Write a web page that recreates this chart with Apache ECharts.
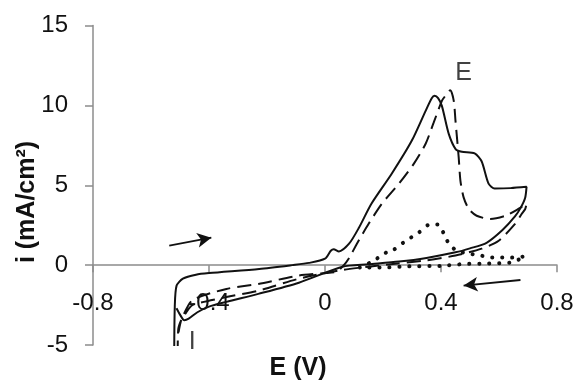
<!DOCTYPE html>
<html>
<head>
<meta charset="utf-8">
<script src="https://cdn.jsdelivr.net/npm/echarts@6/dist/echarts.min.js"></script>
<style>
html,body{margin:0;padding:0;background:#fff;}
#c{width:581px;height:388px;}
</style>
</head>
<body>
<div id="c"></div>
<script>
// ---- data (E in V, i in mA/cm2) ----
const xTicks = [-0.8, -0.4, 0, 0.4, 0.8];
const yTicks = [-5, 0, 5, 10, 15];

// solid curve: forward then reverse scan
const solidForward = [
  [-0.520,-5.6],[-0.518,-2.6],[-0.512,-1.3],[-0.490,-0.85],[-0.445,-0.60],[-0.400,-0.50],
  [-0.227,-0.24],[-0.113,0.00],[-0.055,0.14],[0.000,0.40],[0.020,0.90],[0.030,1.00],
  [0.048,0.86],[0.083,1.34],[0.117,2.34],[0.160,3.84],[0.230,5.72],[0.299,7.78],
  [0.347,9.66],[0.368,10.45],[0.378,10.6],[0.390,10.45],[0.403,9.97],[0.427,8.2],
  [0.451,7.25],[0.472,7.10],[0.516,7.00],[0.540,6.50],[0.564,5.10],[0.585,4.80],
  [0.640,4.82],[0.695,4.90]
];
const solidReverse = [
  [0.695,4.90],[0.690,4.20],[0.675,3.60],[0.655,3.05],[0.612,2.20],[0.557,1.40],
  [0.500,1.05],[0.450,0.80],[0.350,0.45],[0.255,0.22],[0.150,0.05],[0.060,-0.10],
  [-0.090,-1.10],[-0.230,-1.80],[-0.340,-2.30],[-0.400,-2.60],[-0.440,-2.95],
  [-0.470,-3.35],[-0.485,-3.45],[-0.500,-3.10],[-0.512,-2.70]
];
// dashed curve (peak E)
const dashedForward = [
  [-0.508,-5.6],[-0.506,-4.0],[-0.490,-3.2],[-0.457,-2.20],[-0.340,-1.49],[-0.230,-1.18],
  [-0.090,-0.65],[0.000,-0.50],[0.040,-0.40],[0.065,0.00],[0.085,0.50],[0.110,1.34],
  [0.151,2.60],[0.196,3.84],[0.255,5.10],[0.306,6.34],[0.347,7.60],[0.375,8.93],
  [0.403,10.28],[0.415,10.6],[0.432,10.95],[0.444,10.28],[0.450,9.03],[0.461,6.74],
  [0.467,5.28],[0.478,4.24],[0.496,3.51],[0.523,3.09],[0.570,2.89],[0.622,3.09],
  [0.668,3.53],[0.695,3.84]
];
const dashedReverse = [
  [0.695,3.84],[0.690,3.50],[0.678,3.20],[0.656,2.60],[0.599,1.53],[0.540,1.03],
  [0.450,0.60],[0.350,0.30],[0.250,0.10],[0.150,-0.10],[0.060,-0.30],[-0.090,-0.85],
  [-0.230,-1.60],[-0.340,-2.00],[-0.457,-2.50],[-0.480,-3.00],[-0.495,-3.40],[-0.505,-4.20]
];
// dotted curve
const dottedUpper = [
  [0.120,-0.15],[0.169,0.28],[0.203,0.72],[0.237,0.97],[0.265,1.34],[0.296,1.72],
  [0.323,2.03],[0.358,2.53],[0.389,2.55],[0.410,1.97],[0.427,1.34],[0.454,0.90],
  [0.496,0.72],[0.537,0.60],[0.575,0.47],[0.609,0.47],[0.644,0.47],[0.690,0.55]
];
const dottedLower = [
  [0.690,0.15],[0.644,0.17],[0.560,0.10],[0.480,0.07],[0.400,-0.05],[0.300,-0.07],
  [0.200,-0.15],[0.120,-0.15]
];
// annotations
const peakLabels = [[0.478,12.0,'E'],[-0.458,-4.85,'I']];
const scanArrows = [
  [[-0.537,1.22],[-0.392,1.72]],
  [[0.674,-0.93],[0.478,-1.28]]
];

const FONT = 'Liberation Sans, Arial, sans-serif';
const GRID = {left:93, right:24, top:25.5, bottom:43};
const Y_MIN = -5, Y_MAX = 15;
// shift the x axis up so it sits on i = 0
const plotH = 388 - GRID.top - GRID.bottom;
const xAxisOffset = -plotH * (0 - Y_MIN) / (Y_MAX - Y_MIN);

const chart = echarts.init(document.getElementById('c'), null, {renderer:'canvas'});
const lineBase = {type:'line', symbol:'none', smooth:0.25, silent:true, animation:false};
chart.setOption({
  animation:false,
  backgroundColor:'#fff',
  grid:GRID,
  xAxis:{
    type:'value', min:-0.8, max:0.8, interval:0.4, position:'bottom', offset:xAxisOffset,
    axisLine:{onZero:false, lineStyle:{color:'#8c8c8c', width:1.5}},
    axisTick:{show:true, length:7, lineStyle:{color:'#8c8c8c', width:1.5}},
    splitLine:{show:false},
    axisLabel:{margin:26, fontSize:24, color:'#111', fontFamily:FONT,
      formatter:v=>{const t=xTicks.find(k=>Math.abs(k-v)<1e-9);return t===undefined?'':String(t);}}
  },
  yAxis:{
    type:'value', min:Y_MIN, max:Y_MAX, interval:5,
    axisLine:{show:true, onZero:false, lineStyle:{color:'#8c8c8c', width:1.5}},
    axisTick:{show:true, length:8, lineStyle:{color:'#8c8c8c', width:1.5}},
    splitLine:{show:false},
    axisLabel:{margin:25, fontSize:24, color:'#111', fontFamily:FONT,
      formatter:v=>{const t=yTicks.find(k=>Math.abs(k-v)<1e-9);return t===undefined?'':String(t);}}
  },
  graphic:[
    {type:'text', x:298, y:368, style:{text:'E (V)', font:'bold 25px '+FONT, fill:'#111', textAlign:'center', textVerticalAlign:'middle'}},
    {type:'text', x:27, y:202, rotation:Math.PI/2, style:{text:'i (mA/cm²)', font:'bold 25px '+FONT, fill:'#111', textAlign:'center', textVerticalAlign:'middle'}}
  ],
  series:[
    Object.assign({}, lineBase, {name:'solid', data:solidForward.concat(solidReverse.slice(1)),
      lineStyle:{color:'#111', width:2}}),
    Object.assign({}, lineBase, {name:'dashed', data:dashedForward.concat(dashedReverse.slice(1)),
      lineStyle:{color:'#111', width:2, type:[14,7]}}),
    Object.assign({}, lineBase, {name:'dotted', smooth:0.2, data:dottedUpper.concat(dottedLower.slice(1)),
      lineStyle:{color:'#111', width:4, type:[0.1,9.9], cap:'round'},
      markLine:{silent:true, symbol:['none','arrow'], symbolSize:[11,14],
        lineStyle:{color:'#111', width:1.8, type:'solid'}, label:{show:false},
        data:scanArrows.map(a=>[{coord:a[0]},{coord:a[1]}])}}),
    {type:'scatter', name:'labels', silent:true, symbolSize:1, itemStyle:{color:'rgba(0,0,0,0)'},
      data:peakLabels,
      label:{show:true, position:'inside', formatter:p=>p.value[2], fontSize:25, color:'#111', fontFamily:FONT}}
  ]
});
</script>
</body>
</html>
